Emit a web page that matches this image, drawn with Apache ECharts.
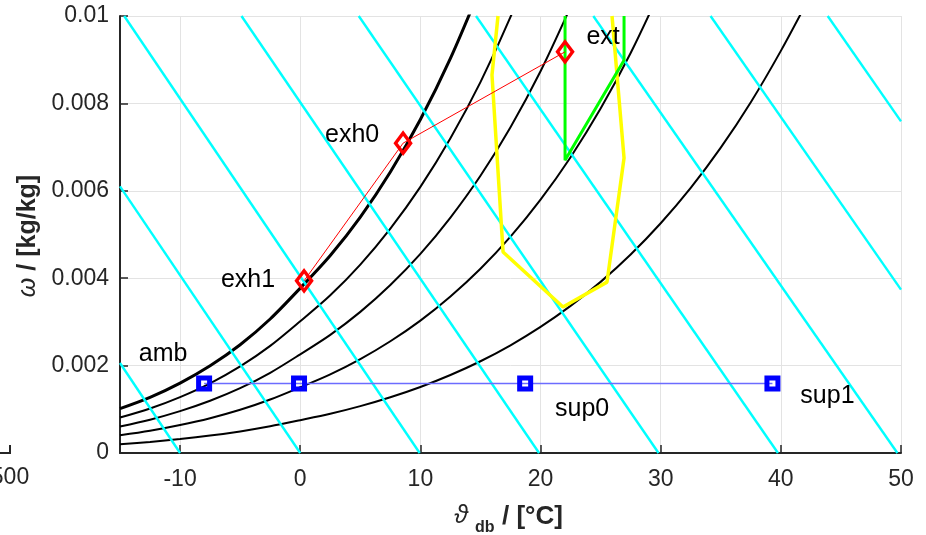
<!DOCTYPE html>
<html>
<head>
<meta charset="utf-8">
<script src="https://cdn.jsdelivr.net/npm/echarts@6/dist/echarts.min.js"></script>
<style>
  html, body { margin: 0; padding: 0; background: #fff; }
  #chart { width: 926px; height: 535px; }
</style>
</head>
<body>
<div id="chart"></div>
<script>
// dry bulb temperatures the humidity curves were read at
const rhT = [-15, -12.5, -10, -7.5, -5, -2.5, 0, 2.5, 5, 7.5, 10, 12.5, 15, 17.5, 20, 22.5, 25, 27.5, 30, 32.5, 35, 37.5, 40, 42.5];
// humidity ratio on each relative humidity curve (100 % is the thick one)
const rh100 = [0.001015, 0.001273, 0.001599, 0.001995, 0.002477, 0.003067, 0.003773, 0.004520, 0.005399, 0.006432, 0.007631, 0.009030, 0.010646];
const rh80 = [0.000811, 0.001019, 0.001280, 0.001595, 0.001981, 0.002451, 0.003015, 0.003610, 0.004312, 0.005135, 0.006090, 0.007203, 0.008487, 0.009979, 0.011702];
const rh60 = [0.000608, 0.000763, 0.000959, 0.001196, 0.001484, 0.001836, 0.002259, 0.002704, 0.003229, 0.003844, 0.004556, 0.005387, 0.006343, 0.007455, 0.008736, 0.010209];
const rh40 = [0.000405, 0.000508, 0.000639, 0.000796, 0.000988, 0.001223, 0.001504, 0.001800, 0.002149, 0.002557, 0.003030, 0.003581, 0.004215, 0.004950, 0.005797, 0.006769, 0.007881, 0.009153, 0.010604];
const rh20 = [0.000203, 0.000254, 0.000319, 0.000398, 0.000494, 0.000611, 0.000751, 0.000898, 0.001073, 0.001276, 0.001511, 0.001785, 0.002100, 0.002465, 0.002885, 0.003366, 0.003916, 0.004543, 0.005258, 0.006067, 0.006987, 0.008027, 0.009202, 0.010487];

// enthalpy lines: start and end point of each (T, w)
const enthStart = [[-10, 0], [0, 0], [9.94, 0], [19.88, 0], [29.82, 0], [39.76, 0], [49.7, 0], [50, 0.00374], [50, 0.00759]];
const enthEnd = [[-15, 0.00206], [-15, 0.0061], [-14.65, 0.01], [-4.89, 0.01], [4.87, 0.01], [14.63, 0.01], [24.39, 0.01], [34.15, 0.01], [43.9, 0.01]];

// yellow zone
const zoneT = [16.46, 15.96, 16.88, 21.87, 25.53, 26.95, 25.95];
const zoneW = [0.0100, 0.00865, 0.0046, 0.00334, 0.00391, 0.00675, 0.0100];
// green zone
const greenT = [22.04, 22.04, 26.95, 26.95];
const greenW = [0.0100, 0.0067, 0.00899, 0.0100];

// exhaust side points (red)
const exhNames = ["ext", "exh0", "exh1"];
const exhT = [22.04, 8.56, 0.32];
const exhW = [0.00918, 0.00709, 0.00394];
// supply side points (blue)
const supNames = ["amb", "", "sup0", "sup1"];
const supT = [-8.0, -0.1, 18.72, 39.3];
const supW = [0.00159, 0.00159, 0.00159, 0.00159];

const FONT = "'Liberation Sans', Arial, 'DejaVu Sans', sans-serif";
const INK = "#262626";

// label offsets from the marker, px
const exhOffsets = [[38, -15], [-51, -8], [-56, -1]];
const supOffsets = [[-41, -29], [0, 0], [57, 26], [55, 13]];

function pairs(xs, ys) {
  return ys.map((y, i) => [xs[i], y]);
}

const series = [];

// relative humidity curves
[rh20, rh40, rh60, rh80, rh100].forEach((w, i) => {
  series.push({
    type: "line",
    data: pairs(rhT, w),
    smooth: 0.3,
    symbol: "none",
    silent: true,
    lineStyle: { color: "#000", width: i === 4 ? 3 : 2 }
  });
});

// enthalpy lines
enthStart.forEach((p, i) => {
  series.push({
    type: "line",
    data: [p, enthEnd[i]],
    symbol: "none",
    silent: true,
    lineStyle: { color: "#00ffff", width: 2.4 }
  });
});

series.push({
  type: "line",
  data: pairs(zoneT, zoneW),
  symbol: "none",
  silent: true,
  lineStyle: { color: "#ffff00", width: 3.5 }
});

series.push({
  type: "line",
  data: pairs(greenT, greenW),
  symbol: "none",
  silent: true,
  lineStyle: { color: "#00ff00", width: 3 }
});

const markLabel = { show: true, position: "inside", fontSize: 25, fontFamily: FONT, color: "#000" };

series.push({
  type: "line",
  color: "#0000ff",
  data: supT.map((t, i) => ({
    value: [t, supW[i]],
    label: Object.assign({}, markLabel, { formatter: supNames[i], offset: supOffsets[i], show: supNames[i] !== "" })
  })),
  symbol: "rect",
  symbolSize: 11,
  showAllSymbol: true,
  lineStyle: { color: "#6c6cff", width: 1.3, opacity: 1 },
  itemStyle: { color: "rgba(255,255,255,0)", borderColor: "#0000ff", borderWidth: 5 },
  z: 5
});

series.push({
  type: "line",
  color: "#ff0000",
  data: exhT.map((t, i) => ({
    value: [t, exhW[i]],
    label: Object.assign({}, markLabel, { formatter: exhNames[i], offset: exhOffsets[i] })
  })),
  symbol: "diamond",
  symbolSize: [15, 20],
  showAllSymbol: true,
  lineStyle: { color: "#ff0000", width: 1 },
  itemStyle: { color: "rgba(255,255,255,0)", borderColor: "#ff0000", borderWidth: 3.5 },
  z: 6
});

const axisCommon = {
  axisLine: { show: true, onZero: false, lineStyle: { color: INK, width: 2 } },
  axisTick: { show: true, inside: true, length: 8, lineStyle: { color: INK, width: 1.5 } },
  splitLine: { show: true, lineStyle: { color: "#e3e3e3", width: 1 } }
};

const myChart = echarts.init(document.getElementById("chart"), null, { renderer: "canvas" });

myChart.setOption({
  animation: false,
  backgroundColor: "#fff",
  grid: { left: 120, right: 25, top: 16, bottom: 82 },
  xAxis: Object.assign({
    type: "value",
    min: -15,
    max: 50,
    splitNumber: 7,
    axisLabel: { showMinLabel: false, fontSize: 23, fontFamily: FONT, color: INK, margin: 15 }
  }, axisCommon),
  yAxis: Object.assign({
    type: "value",
    min: 0,
    max: 0.01,
    interval: 0.002,
    axisLabel: {
      fontSize: 23, fontFamily: FONT, color: INK, margin: 11,
      formatter: v => String(+v.toFixed(4))
    }
  }, axisCommon),
  series: series,
  graphic: [
    // axis titles
    { type: "text", x: 461, y: 516, style: { text: "ϑ", font: "italic 25px " + FONT, fill: INK, align: "center", verticalAlign: "middle" } },
    { type: "text", x: 475, y: 528, style: { text: "db", font: "bold 16px " + FONT, fill: INK, align: "left", verticalAlign: "middle" } },
    { type: "text", x: 502, y: 517, style: { text: "/ [°C]", font: "bold 26px " + FONT, fill: INK, align: "left", verticalAlign: "middle" } },
    {
      type: "text", x: 28, y: 236, rotation: Math.PI / 2,
      style: {
        text: "{w|ω}{b| / [kg/kg]}",
        align: "center", verticalAlign: "middle",
        rich: {
          w: { font: "italic 25px " + FONT, fill: INK },
          b: { font: "bold 25px " + FONT, fill: INK }
        }
      }
    },
    // edge of a neighbouring axes, cut off by the figure
    { type: "text", x: 10, y: 478, style: { text: "500", font: "23px " + FONT, fill: INK, align: "center", verticalAlign: "middle" } },
    { type: "polyline", shape: { points: [[0, 453], [10, 453], [10, 445]] }, style: { stroke: INK, lineWidth: 2, fill: null } }
  ]
});
</script>
</body>
</html>
